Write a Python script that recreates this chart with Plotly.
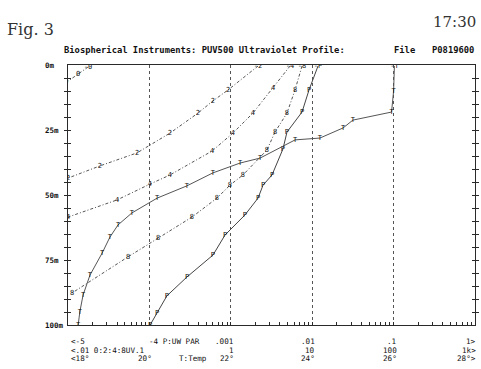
import plotly.graph_objects as go

# ---------------- data (read from the scanned profile) ----------------
# UV channel "0" (shortest wavelength) - µW/cm²/nm, depth m
uv0_depth = [0.8, 3.5, 6.5, 9.0]
uv0_value = [0.0176, 0.0133, 0.0095, 0.0075]

# UV channel "2"
uv2_depth = [0.4, 9.6, 13.8, 18.5, 26.2, 33.8, 38.8, 43.5]
uv2_value = [2.16, 0.925, 0.604, 0.395, 0.179, 0.0705, 0.0247, 0.0100]

# UV channel "4"
uv4_depth = [0.4, 8.8, 18.5, 26.2, 33.1, 42.3, 45.8, 51.9, 58.5]
uv4_value = [5.34, 3.30, 1.87, 1.06, 0.588, 0.179, 0.1016, 0.040, 0.0100]

# UV channel "8"
uv8_depth = [0.4, 9.6, 18.5, 25.8, 32.7, 42.3, 46.2, 51.2, 58.5, 66.5, 73.8, 87.7]
uv8_value = [7.50, 6.15, 4.90, 3.49, 2.78, 1.41, 0.977, 0.676, 0.333, 0.128, 0.0546, 0.0112]

# PAR (uW) on the 1e-5 .. 1 scale
par_depth = [0.4, 9.6, 18.1, 25.8, 32.3, 42.3, 46.2, 51.2, 57.7, 65.4, 73.1, 81.5, 88.8, 95.4, 100.0]
par_value = [0.01178, 0.00914, 0.00750, 0.00490, 0.00437, 0.00321, 0.00249, 0.00216,
             0.00149, 0.000849, 0.000604, 0.000290, 0.000164, 0.000124, 0.000102]

# Temperature (°C)
temp_depth = [0.4, 10.0, 18.1, 21.2, 24.2, 28.1, 28.8, 35.8, 37.7, 41.5, 46.5, 51.2,
              56.9, 61.5, 66.2, 72.3, 80.8, 88.5, 95.0, 100.0]
temp_value = [26.02, 26.0, 25.95, 25.0, 24.76, 24.19, 23.58, 22.72, 22.23, 21.56, 20.92,
              20.19, 19.57, 19.23, 19.03, 18.84, 18.54, 18.37, 18.29, 18.25]

# axis text
depth_ticks = [0, 25, 50, 75, 100]
depth_labels = ["0m", "25m", "50m", "75m", "100m"]
row1_labels = ["<-5", "-4 P:UW PAR", ".001", ".01", ".1", "1>"]
row2_labels = ["<.01 0:2:4:8UV.1", "", "1", "10", "100", "1k>"]
row3_labels = ["<18°", "20°", "22°", "24°", "26°", "28°>"]
temp_name = "T:Temp"
title_text = "Biospherical Instruments: PUV500 Ultraviolet Profile:"
file_label = "File"
file_name = "P0819600"

MONO = "DejaVu Sans Mono"
INK = "#2a2a2a"

fig = go.Figure()

def add_series(x, y, glyph, axis, dash, color, width):
    txt = [glyph] * len(x)
    txt[0] = "-" + glyph
    fig.add_trace(go.Scatter(
        x=x, y=y, xaxis=axis, yaxis="y", mode="lines+text",
        text=txt, textposition="middle center",
        textfont=dict(family=MONO, size=7, color="#111"),
        line=dict(color=color, width=width, dash=dash),
        showlegend=False, hoverinfo="skip"))

dd = "3px,2px,1px,2px"
add_series(uv0_value, uv0_depth, "0", "x", dd, "#555", 1)
add_series(uv2_value, uv2_depth, "2", "x", dd, "#555", 1)
add_series(uv4_value, uv4_depth, "4", "x", dd, "#555", 1)
add_series(uv8_value, uv8_depth, "8", "x", dd, "#555", 1)
add_series(par_value, par_depth, "P", "x2", "solid", "#444", 1)
add_series(temp_value, temp_depth, "T", "x3", "solid", "#555", 1)

decades = [10.0 ** e for e in range(-2, 4)]
minors = [k * 10.0 ** e for e in range(-2, 3) for k in range(2, 10)]

fig.update_layout(
    width=481, height=369,
    margin=dict(l=68, r=6, t=65, b=44),
    paper_bgcolor="white", plot_bgcolor="white",
    showlegend=False,
    xaxis=dict(type="log", range=[-2, 3], showline=True, mirror=True,
               linecolor=INK, linewidth=1.4,
               tickmode="array", tickvals=decades, ticks="inside", ticklen=3,
               tickcolor=INK, showticklabels=False,
               showgrid=True, gridcolor="#555", gridwidth=1, griddash="dot",
               minor=dict(tickmode="array", tickvals=minors, ticks="inside",
                          ticklen=3, tickcolor=INK, showgrid=False),
               zeroline=False),
    xaxis2=dict(type="log", range=[-5, 0], overlaying="x", visible=False),
    xaxis3=dict(type="linear", range=[18, 28], overlaying="x", visible=False),
    yaxis=dict(range=[100, 0], showline=True, mirror="allticks",
               linecolor=INK, linewidth=1.4,
               tickmode="array", tickvals=list(range(0, 101, 5)),
               ticks="inside", ticklen=3, tickcolor=INK,
               showticklabels=False, showgrid=False, zeroline=False),
)

ann = []
# title
ann.append(dict(text="<b>" + title_text + "</b>", xref="paper", yref="paper",
                x=0, y=1, xanchor="left", yanchor="middle", xshift=-6, yshift=15,
                showarrow=False, font=dict(family=MONO, size=8.8, color="#111")))
ann.append(dict(text="<b>" + file_label + "</b>", xref="paper", yref="paper",
                x=0, y=1, xanchor="left", yanchor="middle", xshift=324, yshift=15,
                showarrow=False, font=dict(family=MONO, size=8.8, color="#111")))
ann.append(dict(text="<b>" + file_name + "</b>", xref="paper", yref="paper",
                x=0, y=1, xanchor="left", yanchor="middle", xshift=362, yshift=15,
                showarrow=False, font=dict(family=MONO, size=8.8, color="#111")))
# handwritten notes
ann.append(dict(text="Fig. 3", xref="paper", yref="paper", x=0, y=1,
                xanchor="left", yanchor="middle", xshift=-63, yshift=36,
                showarrow=False, font=dict(family="DejaVu Serif", size=16, color="#333")))
ann.append(dict(text="17:30", xref="paper", yref="paper", x=1, y=1,
                xanchor="right", yanchor="middle", xshift=3, yshift=43,
                showarrow=False, font=dict(family="DejaVu Serif", size=15, color="#333")))
# depth labels
for d, lab in zip(depth_ticks, depth_labels):
    ann.append(dict(text="<b>" + lab + "</b>", xref="paper", yref="y", x=0, y=d,
                    xanchor="left", yanchor="middle", xshift=-25,
                    showarrow=False, font=dict(family=MONO, size=7.5, color="#111")))
# bottom scale labels
rows = [(row1_labels, -16.5), (row2_labels, -25), (row3_labels, -33.5)]
for labels, ys in rows:
    for i, lab in enumerate(labels):
        if not lab:
            continue
        if i == 0:
            xa, xs = "left", 1
        elif lab.startswith("-4"):
            xa, xs = "left", -2
        else:
            xa, xs = "right", 5 if i < 5 else 3
        ann.append(dict(text=lab, xref="paper", yref="paper", x=i / 5, y=0,
                        xanchor=xa, yanchor="middle", xshift=xs, yshift=ys,
                        showarrow=False, font=dict(family=MONO, size=7.6, color="#111")))
ann.append(dict(text=temp_name, xref="paper", yref="paper", x=0.2, y=0,
                xanchor="left", yanchor="middle", xshift=28, yshift=-33.5,
                showarrow=False, font=dict(family=MONO, size=7.6, color="#111")))
fig.update_layout(annotations=ann)

fig.write_html("out.html", config={"displayModeBar": False},
               post_script="document.body.style.margin='0';document.body.style.overflow='hidden';")
